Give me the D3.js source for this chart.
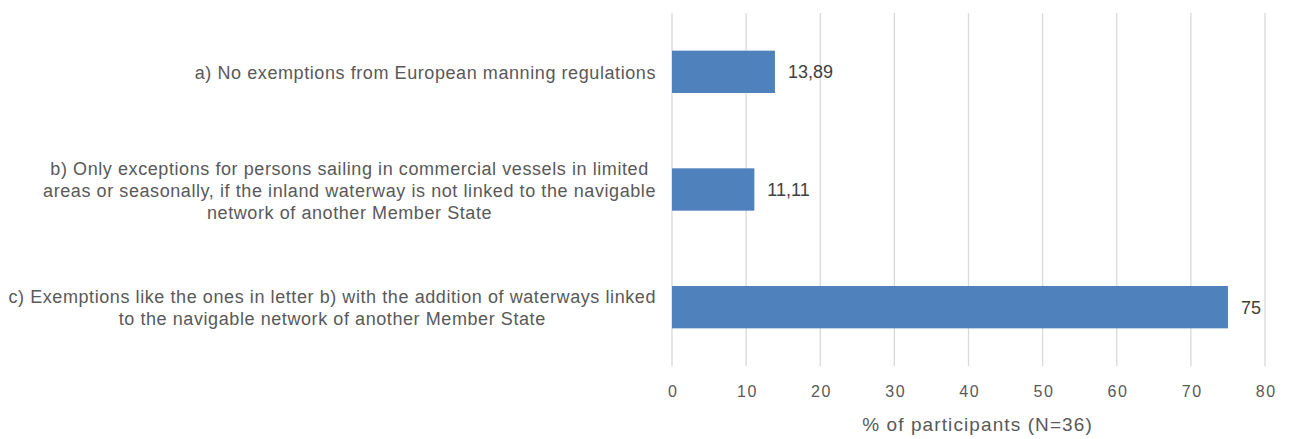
<!DOCTYPE html>
<html>
<head>
<meta charset="utf-8">
<script src="https://cdn.jsdelivr.net/npm/d3@7"></script>
<style>
  html, body { margin: 0; padding: 0; background: #ffffff; }
  svg { display: block; font-family: "Liberation Sans", Arial, sans-serif; }
</style>
</head>
<body>
<svg id="chart" width="1289" height="439"></svg>
<script>
// Answer options, each split into the lines it is wrapped on
const categories = [
  ["a) No exemptions from European manning regulations"],
  ["b) Only exceptions for persons sailing in commercial vessels in limited",
   "areas or seasonally, if the inland waterway is not linked to the navigable",
   "network of another Member State"],
  ["c) Exemptions like the ones in letter b) with the addition of waterways linked",
   "to the navigable network of another Member State"]
];
const values = [13.89, 11.11, 75];
const valueLabels = ["13,89", "11,11", "75"];
const tickValues = [0, 10, 20, 30, 40, 50, 60, 70, 80];
const axisTitle = "% of participants (N=36)";

const svg = d3.select("#chart");
const margin = { top: 13, right: 24, bottom: 73, left: 672 };
const width = 1289 - margin.left - margin.right;
const height = 439 - margin.top - margin.bottom;

const textColor = "#595959";
const gridColor = "#d9d9d9";
const barColor = "#4f81bd";

const g = svg.append("g").attr("transform", `translate(${margin.left},${margin.top})`);

const x = d3.scaleLinear().domain([0, 80]).range([0, width]);
const y = d3.scaleBand().domain(d3.range(categories.length)).range([0, height]).paddingInner(0.64).paddingOuter(0.32);

// Vertical gridlines
g.append("g").selectAll("line").data(tickValues).join("line")
  .attr("x1", d => x(d)).attr("x2", d => x(d))
  .attr("y1", 0).attr("y2", height)
  .attr("stroke", gridColor).attr("stroke-width", 1.3);

// Bars
g.append("g").selectAll("rect").data(values).join("rect")
  .attr("x", x(0))
  .attr("y", (d, i) => y(i))
  .attr("width", d => x(d) - x(0))
  .attr("height", y.bandwidth())
  .attr("fill", barColor);

// Value labels
g.append("g").selectAll("text").data(values).join("text")
  .attr("x", d => x(d) + 13)
  .attr("y", (d, i) => y(i) + y.bandwidth() / 2)
  .attr("dy", "0.37em")
  .attr("fill", "#404040")
  .style("font-size", "18px")
  .text((d, i) => valueLabels[i]);

// X axis tick labels
const xAxis = d3.axisBottom(x).tickValues(tickValues).tickSize(0).tickPadding(20).tickFormat(d3.format("d"));
const ax = g.append("g").attr("transform", `translate(0,${height})`).call(xAxis);
ax.select(".domain").remove();
ax.selectAll("text")
  .attr("fill", textColor)
  .style("font-size", "16px")
  .style("letter-spacing", "1.5px")
  .style("font-family", "inherit")
  .attr("dx", "0.75px");

// Axis title
g.append("text")
  .attr("x", width / 2 + 9)
  .attr("y", height + 65)
  .attr("text-anchor", "middle")
  .attr("fill", textColor)
  .style("font-size", "19px")
  .style("letter-spacing", "1.1px")
  .text(axisTitle);

// Category labels: each block right-aligned to the plot, lines centred within it
const lineHeight = 22;
const labelRight = -16;
categories.forEach((lines, i) => {
  const grp = g.append("g");
  const texts = lines.map(l => grp.append("text")
    .attr("fill", textColor)
    .style("font-size", "18px")
    .style("letter-spacing", "0.58px")
    .attr("text-anchor", "middle")
    .text(l));
  const maxW = d3.max(texts, t => t.node().getComputedTextLength());
  const cx = labelRight - maxW / 2;
  const cy = y(i) + y.bandwidth() / 2;
  texts.forEach((t, k) => {
    t.attr("x", cx)
     .attr("y", cy + (k - (lines.length - 1) / 2) * lineHeight)
     .attr("dy", "0.4em");
  });
});
</script>
</body>
</html>
